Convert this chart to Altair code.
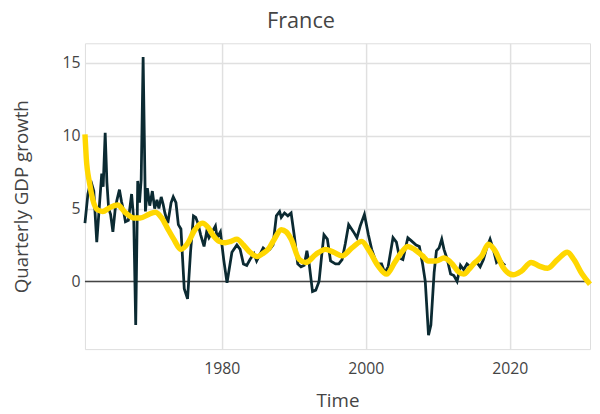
import altair as alt
import pandas as pd

obs_years = [1961.00, 1961.41, 1961.82, 1962.23, 1962.64, 1963.05, 1963.33, 1963.53, 1963.81,
             1964.05, 1964.29, 1964.56, 1964.88, 1965.21, 1965.45, 1965.79, 1966.07, 1966.34,
             1966.62, 1967.03, 1967.48, 1967.78, 1968.05, 1968.33, 1968.58, 1968.81, 1969.08,
             1969.40, 1969.67, 1970.00, 1970.36, 1970.68, 1971.00, 1971.27, 1971.59, 1971.86,
             1972.10, 1972.51, 1972.96, 1973.26, 1973.64, 1973.97, 1974.33, 1974.79, 1975.25,
             1975.66, 1976.07, 1976.38, 1976.68, 1977.07, 1977.54, 1977.90, 1978.22, 1978.67,
             1979.12, 1979.36, 1979.81, 1980.27, 1980.73, 1981.41, 1982.10, 1982.55, 1983.01,
             1983.47, 1983.92, 1984.47, 1984.84, 1985.25, 1985.75, 1986.21, 1986.66, 1987.12,
             1987.58, 1988.03, 1988.26, 1988.71, 1989.18, 1989.63, 1990.08, 1990.55, 1991.00,
             1991.45, 1991.82, 1992.14, 1992.60, 1993.05, 1993.51, 1993.88, 1994.19, 1994.66,
             1995.11, 1995.79, 1996.25, 1996.71, 1997.16, 1997.62, 1998.30, 1998.77, 1999.22,
             1999.81, 2000.36, 2000.82, 2001.51, 2002.19, 2002.64, 2003.10, 2003.78, 2004.25,
             2004.70, 2005.15, 2005.84, 2006.30, 2006.99, 2007.44, 2007.89, 2008.26, 2008.71,
             2009.04, 2009.49, 2009.81, 2010.18, 2010.55, 2010.86, 2011.32, 2011.78, 2012.23,
             2012.68, 2013.15, 2013.60, 2014.05, 2014.52, 2014.97, 2015.42, 2015.88, 2016.34,
             2016.79, 2017.26, 2017.71, 2018.16, 2018.63, 2019.08, 2019.36]
obs_values = [4.0, 6.0, 6.9, 6.2, 2.7, 5.5, 7.4, 6.5, 10.2,
              6.8, 5.0, 4.6, 3.4, 5.0, 5.6, 6.3, 5.5, 4.9,
              4.1, 4.2, 6.0, 4.2, -3.0, 6.9, 5.4, 7.0, 15.4,
              4.8, 6.4, 5.2, 6.2, 5.0, 5.6, 5.0, 5.8, 5.3,
              4.7, 4.0, 5.4, 5.8, 5.4, 3.9, 3.6, -0.5, -1.2,
              2.0, 4.5, 4.4, 4.0, 3.2, 2.4, 3.4, 3.0, 3.4,
              3.8, 3.0, 3.4, 1.5, -0.1, 2.0, 2.5, 2.2, 1.2,
              1.1, 1.5, 1.9, 1.4, 1.8, 2.3, 2.1, 2.2, 2.5,
              4.5, 4.8, 4.4, 4.7, 4.5, 4.7, 3.1, 1.2, 1.0,
              1.1, 2.1, 1.2, -0.7, -0.6, 0.0, 1.8, 3.2, 2.9,
              1.4, 1.2, 1.2, 1.5, 2.6, 3.9, 3.4, 3.0, 3.8,
              4.6, 3.2, 2.2, 1.2, 1.2, 0.6, 1.0, 3.0, 2.7,
              1.6, 1.5, 3.0, 2.8, 2.5, 2.4, 1.2, 0.0, -3.7,
              -3.0, 0.6, 2.1, 2.3, 2.9, 2.2, 1.5, 0.5, 0.4,
              0.0, 1.1, 0.8, 1.2, 1.0, 1.2, 1.3, 1.0, 1.5,
              2.3, 2.9, 2.2, 1.3, 1.5, 1.2, 1.1]

# Smoothed trend / projection (yellow)
trend_years = [1961.00, 1961.18, 1961.64, 1962.10, 1962.78, 1963.47, 1964.38, 1965.52, 1966.66,
               1967.81, 1968.67, 1969.86, 1970.77, 1971.68, 1972.51, 1973.33, 1974.33, 1975.25,
               1976.21, 1977.30, 1978.12, 1978.90, 1979.63, 1980.49, 1981.27, 1982.10, 1983.01,
               1983.92, 1984.97, 1985.66, 1986.44, 1987.30, 1988.26, 1988.95, 1989.63, 1990.77,
               1991.68, 1993.05, 1994.42, 1995.56, 1996.71, 1998.08, 1999.45, 2000.36, 2001.73,
               2002.88, 2004.01, 2004.97, 2005.84, 2006.75, 2007.89, 2008.67, 2009.73, 2010.86,
               2012.00, 2012.78, 2013.60, 2014.29, 2014.97, 2016.11, 2017.03, 2017.95, 2019.08,
               2020.45, 2021.59, 2022.96, 2024.11, 2025.25, 2026.62, 2027.99, 2028.90, 2030.04,
               2031.14]
trend_values = [10.1, 8.5, 6.75, 5.6, 4.9, 4.8, 5.05, 5.25, 4.7,
                4.35, 4.35, 4.6, 4.75, 4.35, 3.6, 2.9, 2.2, 2.6,
                3.5, 4.0, 3.7, 3.1, 2.75, 2.65, 2.75, 2.9, 2.5,
                2.0, 1.7, 1.9, 2.2, 2.9, 3.55, 3.4, 2.9, 1.5,
                1.3, 1.85, 2.2, 2.0, 1.75, 2.3, 2.75, 2.2, 1.05,
                0.5, 1.3, 2.0, 2.4, 2.2, 1.75, 1.4, 1.4, 1.6,
                1.2, 0.7, 0.5, 0.8, 1.2, 1.75, 2.55, 2.1, 0.95,
                0.45, 0.7, 1.3, 1.05, 0.9, 1.5, 2.0, 1.5, 0.5,
                -0.2]

x_ticks = [1980, 2000, 2020]
y_ticks = [0, 5, 10, 15]

obs = pd.DataFrame({"Time": obs_years, "growth": obs_values})
trend = pd.DataFrame({"Time": trend_years, "growth": trend_values})
zero = pd.DataFrame({"growth": [0]})

FONT = "Open Sans"
TXT = "#444444"

x_scale = alt.Scale(domain=[1961.0, 2031.14], nice=False, zero=False)
y_scale = alt.Scale(domain=[-4.65, 16.35], nice=False, zero=False)

x_axis = alt.Axis(values=x_ticks, format="d", title="Time", grid=True,
                  gridColor="#e0e0e0", gridWidth=1.5, domain=False, ticks=False,
                  labelPadding=12, labelFontSize=16, labelColor=TXT, labelFont=FONT,
                  titleFontSize=19, titleColor=TXT, titleFont=FONT,
                  titleFontWeight="normal", titlePadding=15)
y_axis = alt.Axis(values=y_ticks, title="Quarterly GDP growth", grid=True,
                  gridColor="#e0e0e0", gridWidth=1.5, domain=False, ticks=False,
                  labelPadding=5, labelFontSize=16, labelColor=TXT, labelFont=FONT,
                  titleFontSize=19, titleColor=TXT, titleFont=FONT,
                  titleFontWeight="normal", titlePadding=31)

X = alt.X("Time:Q", scale=x_scale, axis=x_axis)
Y = alt.Y("growth:Q", scale=y_scale, axis=y_axis)

zero_line = alt.Chart(zero).mark_rule(color="#444444", strokeWidth=1.5).encode(y=Y)
obs_line = alt.Chart(obs).mark_line(color="#0b2a32", strokeWidth=2.8).encode(x=X, y=Y)
trend_line = alt.Chart(trend).mark_line(color="#FFD700", strokeWidth=5.5,
                                        interpolate="monotone").encode(x=X, y=Y)

chart = alt.layer(zero_line, obs_line, trend_line).properties(
    width=512, height=310,
    title=alt.TitleParams("France", fontSize=22, font=FONT, fontWeight="normal",
                          color=TXT, anchor="middle", dx=-37, offset=11),
    autosize=alt.AutoSizeParams(type="none"),
    padding={"left": 78, "top": 33, "right": 2, "bottom": 62},
).configure_view(stroke=None).configure(background="white")

chart.save("out.html", embed_options={"renderer": "svg", "actions": False})
